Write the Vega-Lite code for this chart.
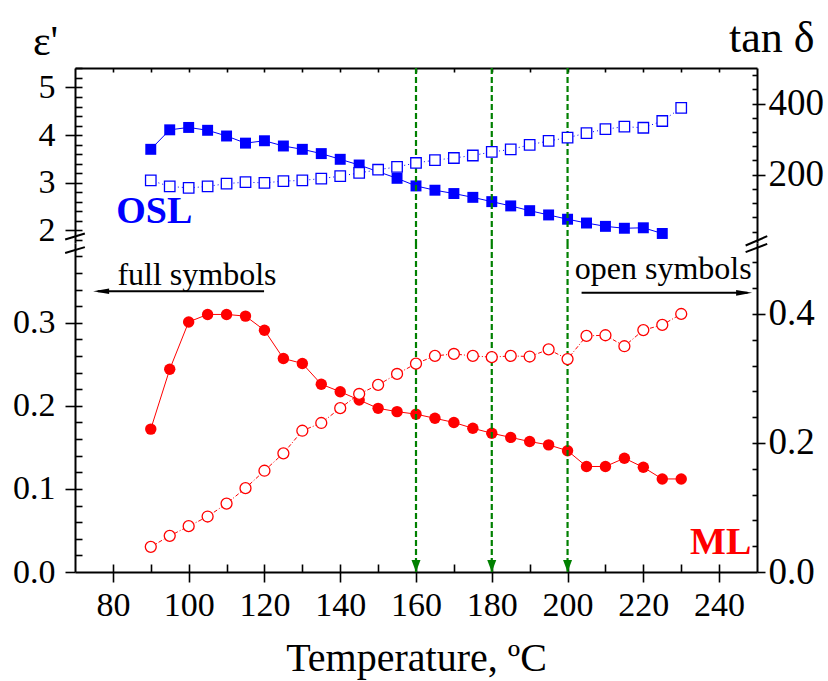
{
  "$schema": "https://vega.github.io/schema/vega-lite/v6.json",
  "background": "white",
  "padding": {"left": 12, "top": 16, "right": 8, "bottom": 6},
  "bounds": "flush",
  "spacing": 0,
  "config": {
    "view": {"stroke": null},
    "font": "Liberation Serif",
    "text": {"font": "Liberation Serif"},
    "axis": {
      "grid": false, "domainColor": "black", "domainWidth": 2, "tickColor": "black", "tickWidth": 1.6,
      "labelColor": "black", "labelFont": "Liberation Serif", "labelFontSize": 34,
      "labelFlush": false, "labelOverlap": false, "labelBound": false,
      "titleFont": "Liberation Serif", "titleColor": "black", "titleFontWeight": "normal"
    }
  },
  "datasets": {
    "osl_full": [
      {"T": 90, "eps": 3.70}, {"T": 95, "eps": 4.11}, {"T": 100, "eps": 4.16}, {"T": 105, "eps": 4.10},
      {"T": 110, "eps": 3.98}, {"T": 115, "eps": 3.83}, {"T": 120, "eps": 3.88}, {"T": 125, "eps": 3.77},
      {"T": 130, "eps": 3.70}, {"T": 135, "eps": 3.61}, {"T": 140, "eps": 3.49}, {"T": 145, "eps": 3.37},
      {"T": 155, "eps": 3.09}, {"T": 160, "eps": 2.93}, {"T": 165, "eps": 2.84}, {"T": 170, "eps": 2.77},
      {"T": 175, "eps": 2.69}, {"T": 180, "eps": 2.60}, {"T": 185, "eps": 2.51}, {"T": 190, "eps": 2.41},
      {"T": 195, "eps": 2.32}, {"T": 200, "eps": 2.23}, {"T": 205, "eps": 2.15}, {"T": 210, "eps": 2.08},
      {"T": 215, "eps": 2.04}, {"T": 220, "eps": 2.05}, {"T": 225, "eps": 1.93}
    ],
    "osl_open": [
      {"T": 90, "tan": 184}, {"T": 95, "tan": 167}, {"T": 100, "tan": 163}, {"T": 105, "tan": 167},
      {"T": 110, "tan": 175}, {"T": 115, "tan": 179}, {"T": 120, "tan": 177}, {"T": 125, "tan": 182},
      {"T": 130, "tan": 184}, {"T": 135, "tan": 189}, {"T": 140, "tan": 196}, {"T": 145, "tan": 205},
      {"T": 150, "tan": 214}, {"T": 155, "tan": 222}, {"T": 160, "tan": 233}, {"T": 165, "tan": 241},
      {"T": 170, "tan": 247}, {"T": 175, "tan": 254}, {"T": 180, "tan": 264}, {"T": 185, "tan": 271},
      {"T": 190, "tan": 284}, {"T": 195, "tan": 295}, {"T": 200, "tan": 304}, {"T": 205, "tan": 317},
      {"T": 210, "tan": 328}, {"T": 215, "tan": 335}, {"T": 220, "tan": 332}, {"T": 225, "tan": 351},
      {"T": 230, "tan": 388}
    ],
    "ml_full": [
      {"T": 90, "eps": 0.172}, {"T": 95, "eps": 0.244}, {"T": 100, "eps": 0.301}, {"T": 105, "eps": 0.310},
      {"T": 110, "eps": 0.310}, {"T": 115, "eps": 0.308}, {"T": 120, "eps": 0.291}, {"T": 125, "eps": 0.257},
      {"T": 130, "eps": 0.251}, {"T": 135, "eps": 0.226}, {"T": 140, "eps": 0.217}, {"T": 145, "eps": 0.207},
      {"T": 150, "eps": 0.197}, {"T": 155, "eps": 0.193}, {"T": 160, "eps": 0.190}, {"T": 165, "eps": 0.185},
      {"T": 170, "eps": 0.180}, {"T": 175, "eps": 0.173}, {"T": 180, "eps": 0.167}, {"T": 185, "eps": 0.162},
      {"T": 190, "eps": 0.157}, {"T": 195, "eps": 0.153}, {"T": 200, "eps": 0.146}, {"T": 205, "eps": 0.127},
      {"T": 210, "eps": 0.127}, {"T": 215, "eps": 0.137}, {"T": 220, "eps": 0.126}, {"T": 225, "eps": 0.112},
      {"T": 230, "eps": 0.112}
    ],
    "ml_open": [
      {"T": 90, "tan": 0.039}, {"T": 95, "tan": 0.056}, {"T": 100, "tan": 0.071}, {"T": 105, "tan": 0.086},
      {"T": 110, "tan": 0.106}, {"T": 115, "tan": 0.130}, {"T": 120, "tan": 0.157}, {"T": 125, "tan": 0.184},
      {"T": 130, "tan": 0.219}, {"T": 135, "tan": 0.231}, {"T": 140, "tan": 0.254}, {"T": 145, "tan": 0.276},
      {"T": 150, "tan": 0.290}, {"T": 155, "tan": 0.307}, {"T": 160, "tan": 0.323}, {"T": 165, "tan": 0.335},
      {"T": 170, "tan": 0.338}, {"T": 175, "tan": 0.335}, {"T": 180, "tan": 0.333}, {"T": 185, "tan": 0.335},
      {"T": 190, "tan": 0.334}, {"T": 195, "tan": 0.345}, {"T": 200, "tan": 0.330}, {"T": 205, "tan": 0.366},
      {"T": 210, "tan": 0.367}, {"T": 215, "tan": 0.350}, {"T": 220, "tan": 0.375}, {"T": 225, "tan": 0.383},
      {"T": 230, "tan": 0.400}
    ],
    "guides": [{"T": 160, "eps": 0.0072}, {"T": 180, "eps": 0.0072}, {"T": 200, "eps": 0.0072}]
  },
  "vconcat": [
    {
      "width": 682,
      "height": 175,
      "encoding": {
        "x": {"field": "T", "type": "quantitative",
          "scale": {"domain": [70, 250], "nice": false, "zero": false},
          "axis": {"orient": "top", "values": [80, 90, 100, 110, 120, 130, 140, 150, 160, 170, 180, 190, 200, 210, 220, 230, 240], "tickSize": -4, "labels": false, "title": null}}
      },
      "layer": [
        {
          "layer": [
            {"data": {"name": "osl_full"}, "mark": {"type": "line", "color": "#0000ff", "strokeWidth": 1},
              "encoding": {"y": {"field": "eps", "type": "quantitative",
                "scale": {"domain": [1.73, 5.41], "nice": false, "zero": false},
                "axis": {"orient": "left", "values": [2, 3, 4, 5], "tickSize": 10, "labelPadding": 10, "labelFont": "Liberation Serif", "labelFontSize": 34,
                  "title": "ε'", "titleFont": "Liberation Serif", "titleAngle": 0, "titleX": -30, "titleY": -14, "titleAlign": "center", "titleBaseline": "alphabetic", "titleFontSize": 42}}}},
            {"data": {"name": "osl_full"}, "mark": {"type": "point", "shape": "square", "filled": true, "color": "#0000ff", "size": 120, "opacity": 1},
              "encoding": {"y": {"field": "eps", "type": "quantitative", "scale": {"domain": [1.73, 5.41], "nice": false, "zero": false}}}},
            {"data": {"name": "guides"}, "mark": {"type": "rule", "color": "#008000", "strokeWidth": 2.2, "strokeDash": [6, 3]}, "encoding": {}},
            {"data": {"values": [{"T": 80.9, "eps": 2.15, "label": "OSL"}]},
              "mark": {"type": "text", "align": "left", "baseline": "alphabetic", "fontSize": 38, "fontWeight": "bold", "color": "#0000ff", "font": "Liberation Serif"},
              "encoding": {"y": {"field": "eps", "type": "quantitative", "scale": {"domain": [1.73, 5.41], "nice": false, "zero": false}}, "text": {"field": "label"}}},
            {"data": {"values": [{"T": 67.4, "T2": 72.6, "eps": 1.803, "eps2": 1.929}, {"T": 247.0, "T2": 252.7, "eps": 1.677, "eps2": 1.874}]},
              "mark": {"type": "rule", "color": "black", "strokeWidth": 2},
              "encoding": {"x2": {"field": "T2"}, "y": {"field": "eps", "type": "quantitative", "scale": {"domain": [1.73, 5.41], "nice": false, "zero": false}}, "y2": {"field": "eps2"}}}
          ]
        },
        {
          "layer": [
            {"data": {"name": "osl_open"}, "mark": {"type": "line", "color": "#0000ff", "strokeWidth": 1, "strokeDash": [1, 3]},
              "encoding": {"y": {"field": "tan", "type": "quantitative",
                "scale": {"domain": [8, 500], "nice": false, "zero": false},
                "axis": {"orient": "right", "values": [200, 400], "tickSize": 8, "labelPadding": 3, "labelFont": "Liberation Serif", "labelFontSize": 37,
                  "title": "tan δ", "titleFont": "Liberation Serif", "titleAngle": 0, "titleX": 57, "titleY": -17, "titleAlign": "right", "titleBaseline": "alphabetic", "titleFontSize": 44}}}},
            {"data": {"name": "osl_open"}, "mark": {"type": "point", "shape": "square", "filled": true, "fill": "white", "stroke": "#0000ff", "strokeWidth": 1.3, "size": 110, "opacity": 1},
              "encoding": {"y": {"field": "tan", "type": "quantitative", "scale": {"domain": [8, 500], "nice": false, "zero": false}}}}
          ]
        },
        {"data": {"name": "osl_full"}, "mark": {"type": "point", "opacity": 0},
          "encoding": {"y": {"field": "eps", "type": "quantitative", "scale": {"domain": [1.73, 5.41], "nice": false, "zero": false},
            "axis": {"orient": "left", "values": [1.8, 2, 2.2, 2.4, 2.6, 2.8, 3, 3.2, 3.4, 3.6, 3.8, 4, 4.2, 4.4, 4.6, 4.8, 5, 5.2, 5.4], "tickSize": -7, "labels": false, "domain": false, "title": null}}}},
        {"data": {"name": "osl_open"}, "mark": {"type": "point", "opacity": 0},
          "encoding": {"y": {"field": "tan", "type": "quantitative", "scale": {"domain": [8, 500], "nice": false, "zero": false},
            "axis": {"orient": "right", "values": [40, 80, 120, 160, 200, 240, 280, 320, 360, 400, 440, 480], "tickSize": -5, "labels": false, "domain": false, "title": null}}}}
      ],
      "resolve": {"scale": {"y": "independent"}, "axis": {"y": "independent"}}
    },
    {
      "width": 682,
      "height": 329,
      "layer": [
        {
          "encoding": {
            "x": {"field": "T", "type": "quantitative",
              "scale": {"domain": [70, 250], "nice": false, "zero": false},
              "axis": {"orient": "bottom", "values": [80, 100, 120, 140, 160, 180, 200, 220, 240], "tickSize": 10, "labelPadding": 6, "labelFont": "Liberation Serif", "labelFontSize": 34,
                "title": "Temperature, ºC", "titleFont": "Liberation Serif", "titleFontSize": 40, "titlePadding": 16}}
          },
          "layer": [
            {
              "layer": [
                {"data": {"name": "ml_full"}, "mark": {"type": "line", "color": "#ff0000", "strokeWidth": 1},
                  "encoding": {"y": {"field": "eps", "type": "quantitative",
                    "scale": {"domain": [0, 0.396], "nice": false, "zero": false},
                    "axis": {"orient": "left", "values": [0, 0.1, 0.2, 0.3], "format": ".1f", "tickSize": 10, "labelPadding": 10, "labelFont": "Liberation Serif", "labelFontSize": 34, "title": null}}}},
                {"data": {"name": "ml_full"}, "mark": {"type": "point", "shape": "circle", "filled": true, "color": "#ff0000", "size": 130, "opacity": 1},
                  "encoding": {"y": {"field": "eps", "type": "quantitative", "scale": {"domain": [0, 0.396], "nice": false, "zero": false}}}},
                {"data": {"name": "guides"}, "mark": {"type": "rule", "color": "#008000", "strokeWidth": 2.2, "strokeDash": [6, 3]}, "encoding": {}},
                {"data": {"name": "guides"}, "mark": {"type": "point", "shape": "M-0.375,-0.5L0.375,-0.5L0,0.5Z", "filled": true, "color": "#008000", "size": 576, "opacity": 1},
                  "encoding": {"y": {"field": "eps", "type": "quantitative", "scale": {"domain": [0, 0.396], "nice": false, "zero": false}}}},
                {"data": {"values": [{"T": 248.5, "eps": 0.022, "label": "ML"}]},
                  "mark": {"type": "text", "align": "right", "baseline": "alphabetic", "fontSize": 38, "fontWeight": "bold", "color": "#ff0000", "font": "Liberation Serif"},
                  "encoding": {"y": {"field": "eps", "type": "quantitative", "scale": {"domain": [0, 0.396], "nice": false, "zero": false}}, "text": {"field": "label"}}},
                {"data": {"values": [{"T": 81.2, "eps": 0.345, "label": "full symbols"}]},
                  "mark": {"type": "text", "align": "left", "baseline": "alphabetic", "fontSize": 32, "color": "black", "font": "Liberation Serif"},
                  "encoding": {"y": {"field": "eps", "type": "quantitative", "scale": {"domain": [0, 0.396], "nice": false, "zero": false}}, "text": {"field": "label"}}},
                {"data": {"values": [{"T": 248.6, "eps": 0.353, "label": "open symbols"}]},
                  "mark": {"type": "text", "align": "right", "baseline": "alphabetic", "fontSize": 32, "color": "black", "font": "Liberation Serif"},
                  "encoding": {"y": {"field": "eps", "type": "quantitative", "scale": {"domain": [0, 0.396], "nice": false, "zero": false}}, "text": {"field": "label"}}},
                {"data": {"values": [{"T": 76.0, "T2": 119.9, "eps": 0.338}, {"T": 203.7, "T2": 247.5, "eps": 0.336}]},
                  "mark": {"type": "rule", "color": "black", "strokeWidth": 2},
                  "encoding": {"x2": {"field": "T2"}, "y": {"field": "eps", "type": "quantitative", "scale": {"domain": [0, 0.396], "nice": false, "zero": false}}}},
                {"data": {"values": [{"T": 76.9, "eps": 0.338, "dir": "left"}, {"T": 246.6, "eps": 0.336, "dir": "right"}]},
                  "mark": {"type": "point", "filled": true, "color": "black", "size": 256, "opacity": 1},
                  "encoding": {"y": {"field": "eps", "type": "quantitative", "scale": {"domain": [0, 0.396], "nice": false, "zero": false}},
                    "shape": {"field": "dir", "type": "nominal", "scale": {"domain": ["left", "right"], "range": ["M-1,0L1,-0.35L1,0.35Z", "M1,0L-1,-0.35L-1,0.35Z"]}, "legend": null}}},
                {"data": {"values": [{"T": 67.4, "T2": 72.6, "eps": 0.384, "eps2": 0.391}, {"T": 247.0, "T2": 252.7, "eps": 0.385, "eps2": 0.395}]},
                  "mark": {"type": "rule", "color": "black", "strokeWidth": 2},
                  "encoding": {"x2": {"field": "T2"}, "y": {"field": "eps", "type": "quantitative", "scale": {"domain": [0, 0.396], "nice": false, "zero": false}}, "y2": {"field": "eps2"}}}
              ]
            },
            {
              "layer": [
                {"data": {"name": "ml_open"}, "mark": {"type": "line", "color": "#ff0000", "strokeWidth": 1, "strokeDash": [4, 2, 1, 2]},
                  "encoding": {"y": {"field": "tan", "type": "quantitative",
                    "scale": {"domain": [0, 0.51], "nice": false, "zero": false},
                    "axis": {"orient": "right", "values": [0, 0.2, 0.4], "format": ".1f", "tickSize": 8, "labelPadding": 3, "labelFont": "Liberation Serif", "labelFontSize": 37, "title": null}}}},
                {"data": {"name": "ml_open"}, "mark": {"type": "point", "shape": "circle", "filled": true, "fill": "white", "stroke": "#ff0000", "strokeWidth": 1.3, "size": 120, "opacity": 1},
                  "encoding": {"y": {"field": "tan", "type": "quantitative", "scale": {"domain": [0, 0.51], "nice": false, "zero": false}}}}
              ]
            }
          ],
          "resolve": {"scale": {"y": "independent"}, "axis": {"y": "independent"}}
        },
        {"data": {"name": "ml_full"}, "mark": {"type": "point", "opacity": 0},
          "encoding": {
            "x": {"field": "T", "type": "quantitative", "scale": {"domain": [70, 250], "nice": false, "zero": false}, "axis": null},
            "y": {"field": "eps", "type": "quantitative", "scale": {"domain": [0, 0.396], "nice": false, "zero": false},
              "axis": {"orient": "left", "values": [0.02, 0.04, 0.06, 0.08, 0.1, 0.12, 0.14, 0.16, 0.18, 0.2, 0.22, 0.24, 0.26, 0.28, 0.3, 0.32, 0.34, 0.36, 0.38], "tickSize": -7, "labels": false, "domain": false, "title": null}}}},
        {"data": {"name": "ml_open"}, "mark": {"type": "point", "opacity": 0},
          "encoding": {
            "x": {"field": "T", "type": "quantitative", "scale": {"domain": [70, 250], "nice": false, "zero": false}, "axis": null},
            "y": {"field": "tan", "type": "quantitative", "scale": {"domain": [0, 0.51], "nice": false, "zero": false},
              "axis": {"orient": "right", "values": [0.04, 0.08, 0.12, 0.16, 0.2, 0.24, 0.28, 0.32, 0.36, 0.4, 0.44, 0.48], "tickSize": -5, "labels": false, "domain": false, "title": null}}}},
        {"data": {"name": "ml_full"}, "mark": {"type": "point", "opacity": 0},
          "encoding": {
            "x": {"field": "T", "type": "quantitative", "scale": {"domain": [70, 250], "nice": false, "zero": false},
              "axis": {"orient": "bottom", "values": [80, 90, 100, 110, 120, 130, 140, 150, 160, 170, 180, 190, 200, 210, 220, 230, 240], "tickSize": -8, "labels": false, "domain": false, "title": null}},
            "y": {"field": "eps", "type": "quantitative", "scale": {"domain": [0, 0.396], "nice": false, "zero": false}, "axis": null}}}
      ],
      "resolve": {"scale": {"x": "independent", "y": "independent"}, "axis": {"x": "independent", "y": "independent"}}
    }
  ]
}
